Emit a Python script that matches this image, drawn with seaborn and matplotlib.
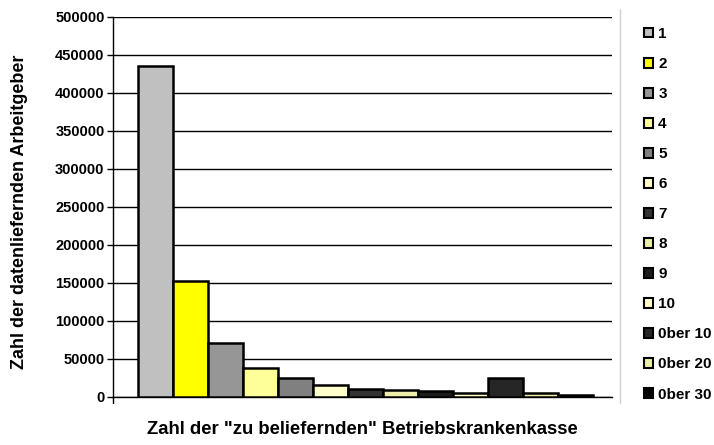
import matplotlib
matplotlib.use("Agg")
import matplotlib.pyplot as plt
import seaborn as sns
import pandas as pd
from matplotlib.patches import Patch
from matplotlib.lines import Line2D

categories = ["1", "2", "3", "4", "5", "6", "7", "8", "9", "10",
              "0ber 10", "0ber 20", "0ber 30"]
values = [435000, 152000, 70500, 38000, 24500, 15500, 10000, 9500, 7500, 5000,
          24500, 5000, 2700]
colors = ["#C0C0C0", "#FFFF00", "#969696", "#FFFF99", "#808080", "#FFFFCC",
          "#333333", "#EEEEAA", "#1C1C1C", "#FFFFCC", "#262626", "#EEEEAA",
          "#000000"]
yticks = [0, 50000, 100000, 150000, 200000, 250000, 300000, 350000, 400000,
          450000, 500000]

sns.set_theme(style="white")
plt.rcParams["font.family"] = ["Liberation Sans", "DejaVu Sans"]
plt.rcParams["text.color"] = "black"
plt.rcParams["axes.labelcolor"] = "black"
plt.rcParams["xtick.color"] = "black"
plt.rcParams["ytick.color"] = "black"

df = pd.DataFrame({"cat": categories, "val": values})

fig = plt.figure(figsize=(7.14, 4.45), dpi=100)
ax = fig.add_axes([0.158, 0.108, 0.699, 0.854])

sns.barplot(data=df, x="cat", y="val", hue="cat", palette=colors,
            width=1.0, edgecolor="black", linewidth=1.8, legend=False,
            saturation=1, ax=ax, zorder=3)

ax.set_ylim(0, 500000)
ax.set_xlim(-1.21, 13.04)
ax.set_yticks(yticks)
ax.set_yticklabels([str(v) for v in yticks], fontsize=10.5, fontweight="bold",
                   color="black")
ax.set_xticks([])
ax.yaxis.grid(True, color="black", linewidth=1.0, zorder=0)
ax.set_axisbelow(True)
for s in ["top", "right"]:
    ax.spines[s].set_visible(False)
ax.spines["left"].set_color("black")
ax.spines["left"].set_linewidth(1.0)
ax.spines["bottom"].set_color("black")
ax.spines["bottom"].set_linewidth(1.0)
ax.tick_params(axis="y", which="both", left=True, length=4, width=1,
               color="black", pad=2)

ax.set_xlabel('Zahl der "zu beliefernden" Betriebskrankenkasse',
              fontsize=13.3, fontweight="bold", labelpad=17, color="black")
ax.set_ylabel("Zahl der datenliefernden Arbeitgeber", fontsize=13,
              fontweight="bold", color="black")
ax.yaxis.set_label_coords(-0.17, 0.487)

# small tick at bottom left
ax.plot([-1.21, -1.21], [0, -0.015 * 500000], color="black", lw=1,
        clip_on=False)

handles = [Patch(facecolor=c, edgecolor="black", linewidth=1.5)
           for c in colors]
leg = fig.legend(handles, categories, loc="upper left",
                 bbox_to_anchor=(0.893, 0.953), frameon=False,
                 prop={"size": 11, "weight": "bold"},
                 handlelength=0.6, handleheight=0.6, handletextpad=0.35,
                 labelspacing=1.05, borderaxespad=0)
for t in leg.get_texts():
    t.set_color("black")

fig.add_artist(Line2D([0.869, 0.869], [0.095, 0.98], color="#D0D0D0",
                      lw=1, transform=fig.transFigure))

fig.savefig("out.png", dpi=100)
